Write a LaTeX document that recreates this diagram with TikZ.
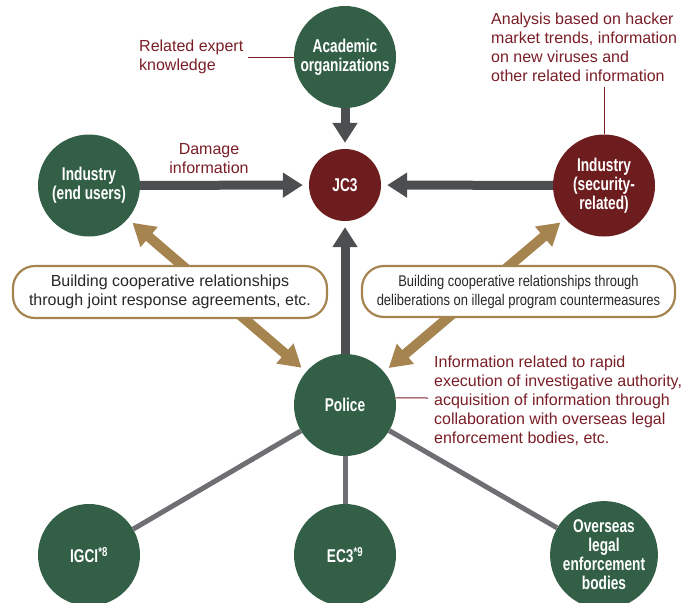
\documentclass[tikz,border=0pt]{standalone}
\usepackage{fontspec}
\setmainfont{Liberation Sans}
\newfontfamily\condfont{Liberation Sans Bold}[FakeStretch=0.74]
\newfontfamily\semicondfont{Liberation Sans}[FakeStretch=0.835]
\usetikzlibrary{arrows.meta}
\definecolor{nodegreen}{RGB}{50,95,70}
\definecolor{nodered}{RGB}{110,29,31}
\definecolor{calloutred}{RGB}{122,30,38}
\definecolor{gold}{RGB}{166,132,80}
\definecolor{darkarrow}{RGB}{77,78,80}
\definecolor{greyline}{RGB}{110,111,114}
\definecolor{boxtext}{RGB}{40,40,40}
\tikzset{
  bignode/.style={circle, minimum size=102pt, inner sep=0pt, text=white, align=center,
    font=\condfont\fontsize{18.5}{19}\selectfont},
  greennode/.style={bignode, fill=nodegreen},
  rednode/.style={bignode, fill=nodered},
  darrow/.style={draw=darkarrow, line width=9pt, -{Triangle[width=24pt,length=20pt]}, shorten >=6pt},
  garrow/.style={draw=gold, line width=10pt, {Triangle[width=25pt,length=22pt]}-{Triangle[width=25pt,length=22pt]}, shorten <=6pt, shorten >=6pt},
  linkline/.style={draw=greyline, line width=5pt},
  calloutline/.style={draw=calloutred, line width=1pt},
  callouttext/.style={text=calloutred, inner sep=0pt, font=\fontsize{16}{19}\selectfont},
  relbox/.style={draw=gold, line width=2.2pt, fill=white, rounded corners=22pt, inner sep=0pt, align=center, text=boxtext}
}
\begin{document}
\begin{tikzpicture}[x=1pt,y=-1pt]
\useasboundingbox (0,0) rectangle (697,603);
% circles
\node[greennode] (acad) at (345,57) {Academic\\organizations};
\node[circle, fill=nodered, minimum size=72pt, inner sep=0pt, text=white, font=\condfont\fontsize{18.5}{19}\selectfont] (jc3) at (345,185) {JC3};
\node[greennode] (ind1) at (89,185.5) {Industry\\(end users)};
\node[rednode] (ind2) at (604,185.5) {Industry\\(security-\\related)};
\node[greennode] (police) at (345,405) {Police};
\node[greennode] (igci) at (89,555) {IGCI\textsuperscript{*8}};
\node[greennode] (ec3) at (345,555) {EC3\textsuperscript{*9}};
\node[greennode] (overseas) at (604,555) {Overseas\\legal\\enforcement\\bodies};
% dark arrows into JC3
\draw[darrow] (acad) -- (jc3);
\draw[darrow] (ind1) -- (jc3);
\draw[darrow] (ind2) -- (jc3);
\draw[darrow] (police) -- (jc3);
% grey links
\draw[linkline] (police) -- (igci);
\draw[linkline] (police) -- (ec3);
\draw[linkline] (police) -- (overseas);
% gold double arrows
\draw[garrow] (ind1) -- (police);
\draw[garrow] (ind2) -- (police);
% boxes
\node[relbox, minimum width=314pt, minimum height=52pt, font=\fontsize{16}{19}\selectfont] (box1) at (170,292)
  {Building cooperative relationships\\through joint response agreements, etc.};
\node[relbox, minimum width=313pt, minimum height=51pt, font=\semicondfont\fontsize{15.5}{19}\selectfont] (box2) at (518.5,291.5)
  {Building cooperative relationships through\\deliberations on illegal program countermeasures};
% callouts
\coordinate (relend) at (248,57);
\draw[calloutline] (acad.west) -- (relend);
\node[callouttext, anchor=west, align=left] (reltext) at (139,57) {Related expert\\knowledge};
\node[callouttext, align=center] (damage) at (209,159) {Damage\\information};
\coordinate (anaend) at (604,87);
\draw[calloutline] (ind2.north) -- (anaend);
\node[callouttext, anchor=west, align=left] (analysis) at (491,47)
  {Analysis based on hacker\\market trends, information\\on new viruses and\\other related information};
\coordinate (polend) at (428,398);
\draw[calloutline] (police.8) -- (polend);
\node[callouttext, anchor=west, align=left] (polinfo) at (434,400.5)
  {Information related to rapid\\execution of investigative authority,\\acquisition of information through\\collaboration with overseas legal\\enforcement bodies, etc.};
\end{tikzpicture}
\end{document}
